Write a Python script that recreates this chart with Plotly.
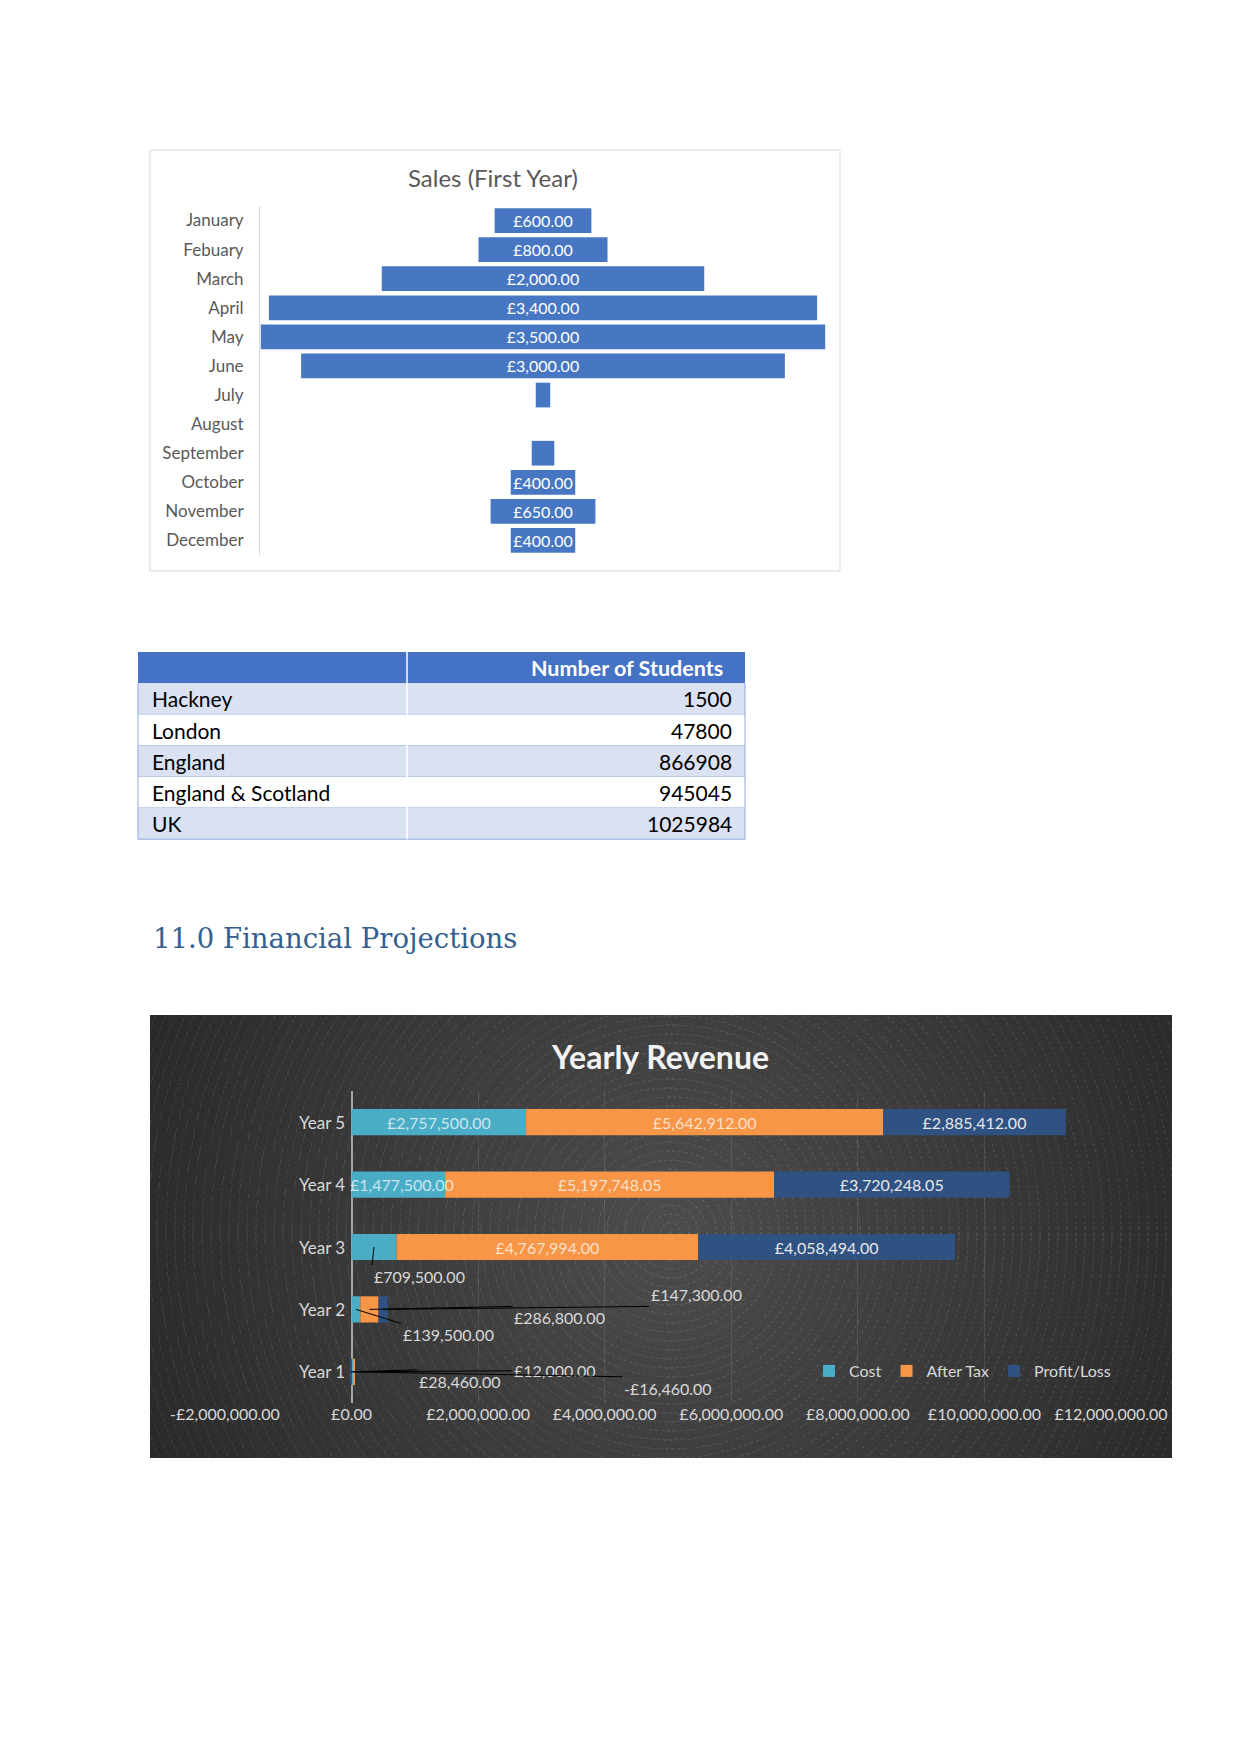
import base64
import struct
import zlib

import numpy as np
import plotly.graph_objects as go

W, H = 1241, 1754


def px(x):
    return x / W


def py(y):
    return 1 - y / H


# ---------------- data ----------------
months = ["January", "Febuary", "March", "April", "May", "June", "July",
          "August", "September", "October", "November", "December"]
sales = [600, 800, 2000, 3400, 3500, 3000, 90, 0, 140, 400, 650, 400]
sales_labelled = [True, True, True, True, True, True, False, False, False,
                  True, True, True]

regions = ["Hackney", "London", "England", "England & Scotland", "UK"]
students = [1500, 47800, 866908, 945045, 1025984]
table_header = ["", "Number of Students"]

years = ["Year 1", "Year 2", "Year 3", "Year 4", "Year 5"]
cost = [28460, 139500, 709500, 1477500, 2757500]
after_tax = [12000, 286800, 4767994, 5197748.05, 5642912]
profit_loss = [-16460, 147300, 4058494, 3720248.05, 2885412]
series_names = ["Cost", "After Tax", "Profit/Loss"]

x_tick_vals = [-2000000, 0, 2000000, 4000000, 6000000, 8000000, 10000000, 12000000]
x_tick_text = ["-£2,000,000.00", "£0.00", "£2,000,000.00", "£4,000,000.00",
               "£6,000,000.00", "£8,000,000.00", "£10,000,000.00", "£12,000,000.00"]

# callout labels (moved data labels with leader lines):
# (tail offset x px, tail offset y px, box xanchor, box yanchor)
callouts = {
    ("Cost", "Year 3"): (-2, 18, "left", "top"),
    ("Cost", "Year 2"): (45, 14, "left", "top"),
    ("After Tax", "Year 2"): (143, -3, "left", "top"),
    ("Profit/Loss", "Year 2"): (266, -3, "left", "bottom"),
    ("Cost", "Year 1"): (65, -2, "left", "top"),
    ("After Tax", "Year 1"): (158, -1, "left", "middle"),
    ("Profit/Loss", "Year 1"): (271, 5, "left", "top"),
}
# labels wider than their bar, drawn on top of the stack (x shift in px)
overflow_labels = {("Cost", "Year 4"): 4}


def gbp(v):
    s = f"£{abs(v):,.2f}"
    return "-" + s if v < 0 else s


def seg_mid(name, i):
    c, a, p = cost[i], after_tax[i], profit_loss[i]
    if name == "Cost":
        return c, c / 2
    if name == "After Tax":
        return a, c + a / 2
    return p, (p / 2 if p < 0 else c + a + p / 2)


# ---------------- background image for dark chart ----------------
def png_gray_uri(arr):
    h, w = arr.shape
    raw = b"".join(b"\x00" + arr[r].tobytes() for r in range(h))

    def chunk(t, d):
        c = struct.pack(">I", len(d)) + t + d
        return c + struct.pack(">I", zlib.crc32(t + d) & 0xFFFFFFFF)

    png = (b"\x89PNG\r\n\x1a\n"
           + chunk(b"IHDR", struct.pack(">IIBBBBB", w, h, 8, 0, 0, 0, 0))
           + chunk(b"IDAT", zlib.compress(raw, 9))
           + chunk(b"IEND", b""))
    return "data:image/png;base64," + base64.b64encode(png).decode()


BW, BH = 1022, 443
yy, xx = np.mgrid[0:BH, 0:BW].astype(float)
cx, cy = 520.0, 217.0
r = np.hypot(xx - cx, yy - cy)
ang = np.arctan2(yy - cy, xx - cx)
base = 77 - 36 * np.clip(r / 580.0, 0, 1)
ring = ((r % 9.0) < 1.1) & (((ang * r) % 6.0) < 3.2)
img = base + ring * 17
bg_uri = png_gray_uri(np.clip(img, 0, 255).astype(np.uint8))

# ---------------- figure ----------------
fig = go.Figure()

# Funnel chart: Sales (First Year)
fig.add_trace(go.Funnel(
    y=months, x=sales,
    text=[gbp(v) if s else "" for v, s in zip(sales, sales_labelled)],
    textinfo="text", textposition="inside", insidetextanchor="middle",
    textangle=0, constraintext="none",
    textfont=dict(color="white", size=16, family="Lato"),
    marker=dict(color="#4777C2", line=dict(width=0)),
    connector=dict(visible=False),
    hoverinfo="skip", showlegend=False,
    xaxis="x", yaxis="y",
))

# Yearly revenue stacked bars
series_vals = [cost, after_tax, profit_loss]
series_colors = ["#4BACC6", "#F79646", "#2F5283"]
label_colors = ["rgba(255,255,255,0.72)", "rgba(255,255,255,0.72)", "#E8E8E8"]
for name, vals, col, lcol in zip(series_names, series_vals, series_colors, label_colors):
    fig.add_trace(go.Bar(
        y=years, x=vals, orientation="h", name=name,
        marker=dict(color=col, line=dict(width=0)),
        text=["" if ((name, yr) in callouts or (name, yr) in overflow_labels) else gbp(v)
              for v, yr in zip(vals, years)],
        textposition="inside", insidetextanchor="middle", textangle=0,
        constraintext="none",
        textfont=dict(color=lcol, size=16, family="Lato"),
        hoverinfo="skip", xaxis="x2", yaxis="y2",
    ))

annotations = []
shapes = []

# callout annotations with leader lines
for (name, yr), (ax, ay, xa, ya) in callouts.items():
    v, xm = seg_mid(name, years.index(yr))
    annotations.append(dict(
        x=xm, y=yr, xref="x2", yref="y2", text=gbp(v),
        showarrow=True, arrowhead=0, arrowwidth=1, arrowcolor="black",
        ax=ax, ay=ay, xanchor=xa, yanchor=ya, standoff=0, startstandoff=0,
        font=dict(color="#D9D9D9", size=16, family="Lato"),
    ))
for (name, yr), xs in overflow_labels.items():
    v, xm = seg_mid(name, years.index(yr))
    annotations.append(dict(
        x=xm, y=yr, xref="x2", yref="y2", text=gbp(v), showarrow=False,
        xshift=xs, font=dict(color=label_colors[series_names.index(name)],
                             size=16, family="Lato"),
    ))

# category labels next to the zero axis
for yr in years:
    annotations.append(dict(
        x=0, y=yr, xref="x2", yref="y2", text=yr, showarrow=False,
        xanchor="right", xshift=-5,
        font=dict(color="#D9D9D9", size=17, family="Lato"),
    ))

# ---------------- table (Number of Students) ----------------
TX0, TXD, TX1 = 138, 407, 745
TY0, ROWH = 652, 31.2
n_rows = len(regions)
shapes.append(dict(type="rect", xref="paper", yref="paper",
                   x0=px(TX0), x1=px(TX1), y0=py(TY0 + ROWH), y1=py(TY0),
                   fillcolor="#4472C4", line=dict(width=0)))
for i in range(n_rows):
    top = TY0 + (i + 1) * ROWH
    shapes.append(dict(type="rect", xref="paper", yref="paper",
                       x0=px(TX0), x1=px(TX1), y0=py(top + ROWH), y1=py(top),
                       fillcolor="#D9E1F2" if i % 2 == 0 else "white",
                       line=dict(width=0)))
    shapes.append(dict(type="line", xref="paper", yref="paper",
                       x0=px(TX0), x1=px(TX1), y0=py(top + ROWH), y1=py(top + ROWH),
                       line=dict(color="#8EA9DB", width=1)))
    annotations.append(dict(x=px(TX0 + 12), y=py(top + ROWH / 2), xref="paper",
                            yref="paper", text=regions[i], showarrow=False,
                            xanchor="left", yanchor="middle",
                            font=dict(color="black", size=21, family="Lato")))
    annotations.append(dict(x=px(TX1 - 11), y=py(top + ROWH / 2), xref="paper",
                            yref="paper", text=str(students[i]), showarrow=False,
                            xanchor="right", yanchor="middle",
                            font=dict(color="black", size=21, family="Lato")))
TY1 = TY0 + (n_rows + 1) * ROWH
for xv in (TX0, TX1):
    shapes.append(dict(type="line", xref="paper", yref="paper",
                       x0=px(xv), x1=px(xv), y0=py(TY1), y1=py(TY0 + ROWH),
                       line=dict(color="#8EA9DB", width=1)))
shapes.append(dict(type="line", xref="paper", yref="paper",
                   x0=px(TXD), x1=px(TXD), y0=py(TY1), y1=py(TY0),
                   line=dict(color="white", width=1.5)))
annotations.append(dict(x=px(TX1 - 20), y=py(TY0 + ROWH / 2), xref="paper",
                        yref="paper", text=f"<b>{table_header[1]}</b>",
                        showarrow=False, xanchor="right", yanchor="middle",
                        font=dict(color="white", size=21.5, family="Lato")))

# titles
annotations.append(dict(
    x=px(493), y=py(178), xref="paper", yref="paper", text="Sales (First Year)",
    showarrow=False, xanchor="center", yanchor="middle",
    font=dict(color="#595959", size=24, family="Lato"),
))
annotations.append(dict(
    x=px(660), y=py(1056), xref="paper", yref="paper", text="<b>Yearly Revenue</b>",
    showarrow=False, xanchor="center", yanchor="middle",
    font=dict(color="#F2F2F2", size=32, family="Lato"),
))
annotations.append(dict(
    x=px(151), y=py(938), xref="paper", yref="paper", text="11.0 Financial Projections",
    showarrow=False, xanchor="left", yanchor="middle",
    font=dict(color="#365F91", size=27.5, family="DejaVu Serif"),
))

# funnel chart frame
shapes.append(dict(type="rect", xref="paper", yref="paper",
                   x0=px(150), x1=px(840), y0=py(571), y1=py(150),
                   line=dict(color="#D9D9D9", width=1), fillcolor="rgba(0,0,0,0)",
                   layer="below"))

fig.update_layout(
    width=W, height=H,
    margin=dict(l=0, r=0, t=0, b=0, pad=0, autoexpand=False),
    paper_bgcolor="white", plot_bgcolor="rgba(0,0,0,0)",
    font=dict(family="Lato"),
    funnelgap=0.15,
    barmode="relative", bargap=0.58,
    xaxis=dict(domain=[px(260), px(826)], range=[-1755, 1755], visible=False,
               fixedrange=True, automargin=False),
    yaxis=dict(domain=[py(555), py(206)], autorange="reversed",
               showline=True, linecolor="#D9D9D9", linewidth=1,
               showgrid=False, ticks="", ticklabelstandoff=12, automargin=False,
               tickfont=dict(color="#595959", size=17, family="Lato")),
    xaxis2=dict(domain=[px(225), px(1111)], range=[-2000000, 12000000],
                tickvals=x_tick_vals, ticktext=x_tick_text,
                tickfont=dict(color="#D9D9D9", size=16, family="Lato"),
                showgrid=True, gridcolor="rgba(255,255,255,0.10)", gridwidth=1,
                zeroline=True, zerolinecolor="#A6A6A6", zerolinewidth=1.5,
                showline=False, ticks="", anchor="y2", automargin=False),
    yaxis2=dict(domain=[py(1403), py(1091)], range=[-0.5, 4.5],
                type="category", categoryorder="array", categoryarray=years,
                showticklabels=False, showgrid=False, zeroline=False,
                showline=False, ticks="", anchor="x2", automargin=False),
    legend=dict(orientation="h", x=px(809), y=py(1371), xanchor="left",
                yanchor="middle", bgcolor="rgba(0,0,0,0)",
                font=dict(color="#D9D9D9", size=16, family="Lato"),
                itemwidth=30, traceorder="normal"),
    annotations=annotations,
    shapes=shapes,
    images=[dict(
        source=bg_uri, xref="paper", yref="paper",
        x=px(150), y=py(1015), sizex=BW / W, sizey=BH / H,
        xanchor="left", yanchor="top", sizing="stretch", layer="below",
    )],
)

fig.write_html("out.html")
